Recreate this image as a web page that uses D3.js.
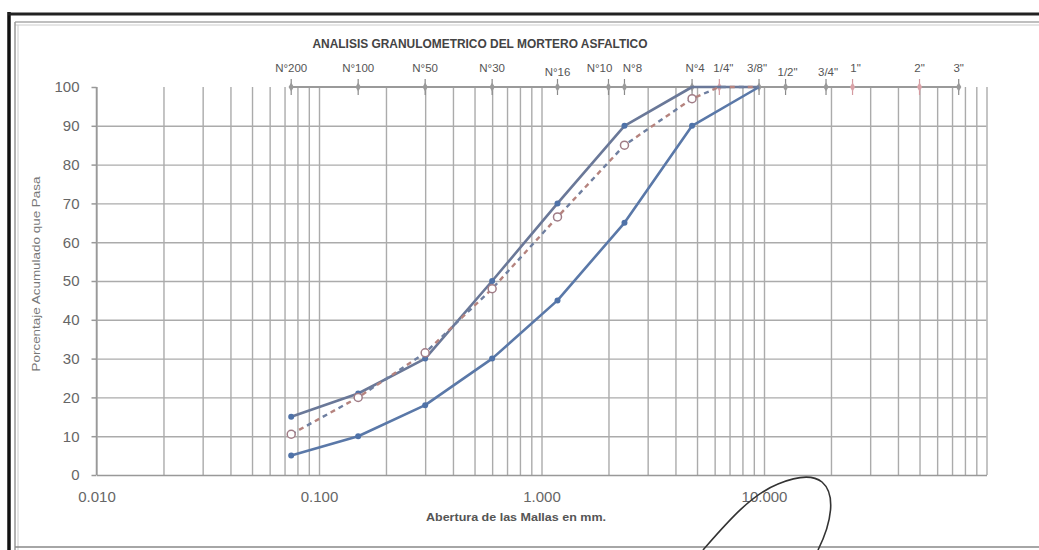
<!DOCTYPE html>
<html><head><meta charset="utf-8">
<script src="https://cdn.jsdelivr.net/npm/d3@7/dist/d3.min.js"></script>
<style>body{margin:0;background:#fff}svg{display:block}</style>
</head><body>
<svg id="c" width="1039" height="550"></svg>
<script>
// ---- data ----
const sieveLabels = ["N°200","N°100","N°50","N°30","N°16","N°10","N°8","N°4","1/4\"","3/8\"","1/2\"","3/4\"","1\"","2\"","3\""];
const sieveSizes  = [0.075,0.15,0.3,0.6,1.18,2.0,2.36,4.75,6.3,9.5,12.5,19.0,25.0,50.0,75.0];
const sievePassing = [100,100,100,100,100,100,100,100,100,100,100,100,100,100,100];
const gradSizes   = [0.075,0.15,0.3,0.6,1.18,2.36,4.75,9.5];
const upperLimit  = [15,21,30,50,70,90,100,100];
const lowerLimit  = [5,10,18,30,45,65,90,100];
const mortarSizes   = [0.075,0.15,0.3,0.6,1.18,2.36,4.75,6.3,9.5];
const mortarPassing = [10.5,20,31.5,48,66.5,85,97,100,100];
const xTickValues = [0.01,0.1,1,10];
const yTickValues = [0,10,20,30,40,50,60,70,80,90,100];
const titleText = "ANALISIS GRANULOMETRICO DEL MORTERO ASFALTICO";
const xTitle = "Abertura de las Mallas en mm.";
const yTitle = "Porcentaje Acumulado que Pasa";

// ---- styles ----
const redSieves = new Set(["1/4\"","1\"","2\""]);
const lowLabels = new Set(["N°16","1/2\"","3/4\""]);
const labelShift = {"N°10":-9,"N°8":8,"N°4":3,"1/4\"":4,"3/8\"":-2,"1/2\"":2,"3/4\"":2,"1\"":3};

const svg = d3.select("#c");
const x = d3.scaleLog().domain([0.01,100]).range([96.5,986.5]);
const y = d3.scaleLinear().domain([0,100]).range([475,87]);
const FONT = "Liberation Sans, Arial, sans-serif";

// frame (scanned page borders)
const fr = svg.append("g");
fr.append("line").attr("x1",9).attr("x2",9).attr("y1",12).attr("y2",550).attr("stroke","#111").attr("stroke-width",3.5);
fr.append("line").attr("x1",8).attr("x2",1039).attr("y1",14).attr("y2",14).attr("stroke","#222").attr("stroke-width",3);
fr.append("line").attr("x1",15).attr("x2",1039).attr("y1",22).attr("y2",22).attr("stroke","#aaa").attr("stroke-width",1.5);
fr.append("line").attr("x1",15).attr("x2",1039).attr("y1",25).attr("y2",25).attr("stroke","#ccc").attr("stroke-width",1);
fr.append("line").attr("x1",15).attr("x2",15).attr("y1",22).attr("y2",550).attr("stroke","#999").attr("stroke-width",1.5);
fr.append("line").attr("x1",18).attr("x2",18).attr("y1",25).attr("y2",550).attr("stroke","#ccc").attr("stroke-width",1);
fr.append("line").attr("x1",15).attr("x2",1039).attr("y1",547).attr("y2",547).attr("stroke","#888").attr("stroke-width",1.5);

// minor + major vertical gridlines
const gridX = [];
for (let e=-2; e<2; e++) for (let m=1; m<10; m++) gridX.push(m*Math.pow(10,e));
gridX.push(100);
svg.append("g").attr("transform","translate(0,475)")
  .call(d3.axisBottom(x).tickValues(gridX).tickSize(-(475-87)).tickFormat(""))
  .call(g=>g.select(".domain").remove())
  .call(g=>g.selectAll("line").attr("stroke","#ababab").attr("stroke-width",1.4));

// horizontal gridlines
svg.append("g").attr("transform","translate(96.5,0)")
  .call(d3.axisLeft(y).tickValues(yTickValues.filter(v=>v>0&&v<100)).tickSize(-(986.5-96.5)).tickFormat(""))
  .call(g=>g.select(".domain").remove())
  .call(g=>g.selectAll("line").attr("stroke","#ababab").attr("stroke-width",1.4));

// y axis
svg.append("g").attr("transform","translate(96.5,0)")
  .call(d3.axisLeft(y).tickValues(yTickValues).tickSize(5).tickPadding(12))
  .call(g=>g.select(".domain").attr("stroke","#999").attr("stroke-width",1.5).attr("d","M0,87V475"))
  .call(g=>g.selectAll("line").attr("stroke","#999").attr("stroke-width",1.5))
  .call(g=>g.selectAll("text").attr("fill","#666").attr("font-family",FONT).attr("font-size",15));

// x axis
svg.append("g").attr("transform","translate(0,475)")
  .call(d3.axisBottom(x).tickValues(xTickValues).tickSize(0).tickPadding(16).tickFormat(d3.format(".3f")))
  .call(g=>g.select(".domain").attr("stroke","#999").attr("stroke-width",1.5))
  .call(g=>g.selectAll("text").attr("fill","#666").attr("font-family",FONT).attr("font-size",15));

// sieve series at 100%
const sieveData = sieveSizes.map((s,i)=>({s, v:sievePassing[i], label:sieveLabels[i]}));
svg.append("path").datum(sieveData)
  .attr("d", d3.line().x(d=>x(d.s)).y(d=>y(d.v)))
  .attr("fill","none").attr("stroke","#9a9a9a").attr("stroke-width",2);
const sg = svg.append("g").selectAll("g").data(sieveData).join("g")
  .attr("transform", d=>`translate(${x(d.s)},${y(d.v)})`);
sg.append("line").attr("y1",-8).attr("y2",8)
  .attr("stroke", d=>redSieves.has(d.label)?"#d49aa0":"#8a8a8a").attr("stroke-width",1.2);
sg.append("path").attr("d", d3.symbol(d3.symbolDiamond, 24))
  .attr("fill", d=>redSieves.has(d.label)?"#d9a3a8":"#9a9a9a");
sg.append("text").text(d=>d.label)
  .attr("x",d=>labelShift[d.label]||0).attr("y", d=>lowLabels.has(d.label)?-11:-15)
  .attr("text-anchor","middle").attr("fill","#555")
  .attr("font-family",FONT).attr("font-size",11.5);

// gradation curves
const line = d3.line().x(d=>x(d[0])).y(d=>y(d[1]));
const upperData = gradSizes.map((s,i)=>[s,upperLimit[i]]);
const lowerData = gradSizes.map((s,i)=>[s,lowerLimit[i]]);
const mortarData = mortarSizes.map((s,i)=>[s,mortarPassing[i]]);

svg.append("path").datum(lowerData).attr("d",line)
  .attr("fill","none").attr("stroke","#5a78a8").attr("stroke-width",2.6).attr("stroke-linejoin","round");
svg.append("path").datum(upperData).attr("d",line)
  .attr("fill","none").attr("stroke","#6a7898").attr("stroke-width",2.6).attr("stroke-linejoin","round");
svg.append("path").datum(mortarData).attr("d",line)
  .attr("fill","none").attr("stroke","#6f7fa0").attr("stroke-width",2.4).attr("stroke-dasharray","5,13");
svg.append("path").datum(mortarData).attr("d",line)
  .attr("fill","none").attr("stroke","#b5837e").attr("stroke-width",2.4).attr("stroke-dasharray","5,13").attr("stroke-dashoffset",9);

svg.append("g").selectAll("circle").data(upperData.slice(0,6).concat(lowerData.slice(0,7))).join("circle")
  .attr("cx",d=>x(d[0])).attr("cy",d=>y(d[1])).attr("r",3).attr("fill","#4f72a8");
svg.append("g").selectAll("circle").data(mortarData.slice(0,7)).join("circle")
  .attr("cx",d=>x(d[0])).attr("cy",d=>y(d[1])).attr("r",4)
  .attr("fill","#fff").attr("stroke","#a07c86").attr("stroke-width",1.5);

// titles
svg.append("text").text(titleText).attr("x",480).attr("y",48).attr("text-anchor","middle")
  .attr("font-family","Liberation Sans Narrow, Liberation Sans, Arial, sans-serif").attr("font-weight","bold")
  .attr("font-size",12).attr("fill","#444").attr("textLength",335).attr("lengthAdjust","spacingAndGlyphs");
svg.append("text").text(xTitle).attr("x",516).attr("y",521).attr("text-anchor","middle")
  .attr("font-family","Liberation Sans Narrow, Liberation Sans, Arial, sans-serif").attr("font-weight","bold")
  .attr("font-size",11).attr("fill","#555").attr("textLength",180).attr("lengthAdjust","spacingAndGlyphs");
svg.append("text").text(yTitle).attr("transform","translate(40,274) rotate(-90)").attr("text-anchor","middle")
  .attr("font-family",FONT).attr("font-size",10).attr("fill","#777")
  .attr("textLength",195).attr("lengthAdjust","spacingAndGlyphs");

// handwritten signature (decoration)
svg.append("path").attr("d","M703,550 C725,525 750,495 778,484 C795,477 812,474 822,482 C836,494 832,522 818,550")
  .attr("fill","none").attr("stroke","#333").attr("stroke-width",1.6);
</script>
</body></html>
